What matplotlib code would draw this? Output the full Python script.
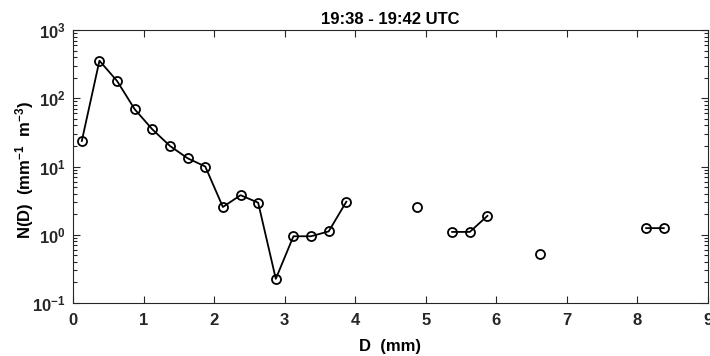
import numpy as np
import matplotlib
matplotlib.use("Agg")
import matplotlib.pyplot as plt
from matplotlib.ticker import LogLocator, FixedLocator, FuncFormatter, NullFormatter

plt.rcParams['font.family'] = ['Liberation Sans', 'DejaVu Sans']
plt.rcParams['font.weight'] = 'bold'
plt.rcParams['mathtext.fontset'] = 'custom'
plt.rcParams['mathtext.rm'] = 'Liberation Sans:bold'
plt.rcParams['mathtext.it'] = 'Liberation Sans:bold'
plt.rcParams['mathtext.bf'] = 'Liberation Sans:bold'

# Bin centres (mm) and number concentration N(D) (mm^-1 m^-3); NaN = empty bin
diam = [0.125, 0.375, 0.625, 0.875, 1.125, 1.375, 1.625, 1.875, 2.125, 2.375,
        2.625, 2.875, 3.125, 3.375, 3.625, 3.875, 4.125, 4.375, 4.625, 4.875,
        5.125, 5.375, 5.625, 5.875, 6.125, 6.375, 6.625, 6.875, 7.125, 7.375,
        7.625, 7.875, 8.125, 8.375]
nd = [23.7, 355, 179, 69, 35, 20, 13.2, 10.0, 2.55, 3.8,
      2.95, 0.226, 0.95, 0.95, 1.12, 3.05, np.nan, np.nan, np.nan, 2.55,
      np.nan, 1.1, 1.1, 1.89, np.nan, np.nan, 0.53, np.nan, np.nan, np.nan,
      np.nan, np.nan, 1.25, 1.25]
x_ticks = [0, 1, 2, 3, 4, 5, 6, 7, 8, 9]
title = "19:38 - 19:42 UTC"

dark = '#262626'
fig = plt.figure(figsize=(7.10, 3.56), dpi=100)
ax = fig.add_axes([0.1028, 0.1489, 0.8942, 0.7668])
ax.plot(diam, nd, '-o', color='black', lw=1.3, ms=6.5, mfc='none', mec='black', mew=1.3)
ax.set_yscale('log')
ax.set_xlim(0, 9)
ax.set_ylim(0.1, 1000)
ax.xaxis.set_major_locator(FixedLocator(x_ticks))
ax.yaxis.set_major_locator(LogLocator(base=10, numticks=10))
ax.yaxis.set_minor_locator(LogLocator(base=10, subs=np.arange(2, 10), numticks=10))
ax.yaxis.set_minor_formatter(NullFormatter())
ax.yaxis.set_major_formatter(FuncFormatter(lambda v, p: r'$10^{%d}$' % int(round(np.log10(v)))))
ax.tick_params(axis='both', which='both', direction='in', top=True, right=True,
               colors=dark, labelcolor=dark, labelsize=12, width=0.8)
ax.tick_params(axis='x', which='major', pad=7)
ax.tick_params(axis='y', which='major', pad=5)
ax.tick_params(which='major', length=5)
ax.tick_params(which='minor', length=3)
for s in ax.spines.values():
    s.set_color(dark)
    s.set_linewidth(0.8)
ax.set_xlabel('D  (mm)', fontsize=12, fontweight='bold', labelpad=8)
ax.set_ylabel(r'N(D)  (mm$^{-1}$  m$^{-3}$)', fontsize=12, fontweight='bold',
              va='center')
ax.yaxis.set_label_coords(-0.0764, 0.487)
ax.set_title(title, fontsize=12, fontweight='bold', pad=4)
fig.savefig('out.png', dpi=100)
